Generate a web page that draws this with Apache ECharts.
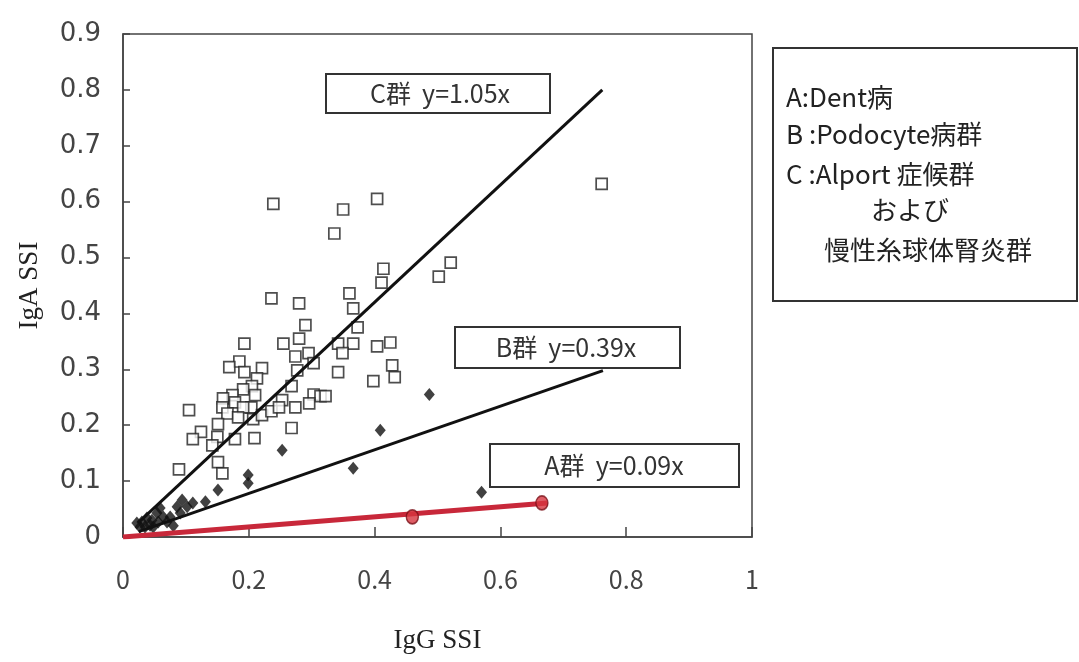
<!DOCTYPE html>
<html lang="ja">
<head>
    <meta charset="UTF-8">
    <script type="text/javascript" src="https://cdn.jsdelivr.net/npm/echarts@6/dist/echarts.min.js"></script>
    <title>IgG SSI / IgA SSI</title>
</head>
<body style="margin:0;background:#fff;">
<div id="ssiChart" style="width: 1079px;height:662px;"></div>
<script type="text/javascript">
    // 軸の目盛
    var xTicks = [0, 0.2, 0.4, 0.6, 0.8, 1];
    var yTicks = [0, 0.1, 0.2, 0.3, 0.4, 0.5, 0.6, 0.7, 0.8, 0.9];

    // C群 (Alport 症候群 / 慢性糸球体腎炎群) : 白抜き四角
    var groupC = [
        [0.239,0.596],[0.350,0.586],[0.404,0.605],[0.336,0.543],[0.414,0.480],[0.411,0.455],
        [0.521,0.491],[0.502,0.466],[0.761,0.632],[0.236,0.427],[0.280,0.418],[0.360,0.436],
        [0.366,0.409],[0.373,0.375],[0.290,0.379],[0.280,0.355],[0.255,0.346],[0.193,0.346],
        [0.342,0.346],[0.366,0.346],[0.349,0.329],[0.404,0.341],[0.425,0.348],[0.274,0.323],
        [0.295,0.329],[0.185,0.314],[0.169,0.304],[0.221,0.302],[0.193,0.295],[0.303,0.311],
        [0.277,0.298],[0.428,0.307],[0.432,0.286],[0.342,0.295],[0.398,0.279],[0.213,0.284],
        [0.205,0.270],[0.191,0.264],[0.174,0.254],[0.210,0.254],[0.268,0.270],[0.303,0.255],
        [0.314,0.252],[0.322,0.252],[0.253,0.245],[0.296,0.239],[0.274,0.232],[0.159,0.248],
        [0.268,0.195],[0.178,0.241],[0.204,0.232],[0.105,0.227],[0.158,0.232],[0.166,0.221],
        [0.191,0.232],[0.183,0.214],[0.207,0.211],[0.221,0.218],[0.236,0.225],[0.248,0.232],
        [0.151,0.202],[0.124,0.188],[0.111,0.175],[0.150,0.179],[0.178,0.175],[0.209,0.177],
        [0.142,0.164],[0.151,0.134],[0.158,0.114],[0.089,0.121]
    ];

    // B群 (Podocyte病群) : 黒ひし形
    var groupB = [
        [0.094,0.066],[0.086,0.054],[0.102,0.054],[0.111,0.061],[0.059,0.052],[0.054,0.043],
        [0.064,0.036],[0.075,0.036],[0.046,0.030],[0.038,0.034],[0.030,0.027],[0.035,0.018],
        [0.027,0.018],[0.048,0.018],[0.070,0.027],[0.080,0.020],[0.043,0.021],[0.056,0.027],
        [0.022,0.025],[0.091,0.043],[0.131,0.063],[0.151,0.084],[0.199,0.111],[0.199,0.096],
        [0.253,0.155],[0.366,0.123],[0.409,0.191],[0.487,0.255],[0.570,0.080]
    ];

    // A群 (Dent病) : 赤丸
    var groupA = [[0.460,0.036],[0.666,0.061]];

    // 回帰直線 y = k x と描画範囲
    var slopeA = 0.09, rangeA = [0, 0.675];
    var slopeB = 0.39, rangeB = [0.025, 0.763];
    var slopeC = 1.05, rangeC = [0.024, 0.762];

    function fitLine(k, r) {
        return [[r[0], k * r[0]], [r[1], k * r[1]]];
    }

    var ssiChart = echarts.init(document.getElementById('ssiChart'));
    var boxText = {fontFamily: 'Noto Sans CJK JP', fontSize: 25, fill: '#333'};
    var noteText = {fontFamily: 'Noto Sans CJK JP', fontSize: 26, fill: '#222'};

    ssiChart.setOption({
        animation: false,
        backgroundColor: '#fff',
        grid: {
            left: 123, top: 34, width: 629, height: 503,
            show: true, borderColor: '#444', borderWidth: 1.5, backgroundColor: 'transparent'
        },
        xAxis: {
            type: 'value', min: 0, max: 1, interval: 0.2,
            name: 'IgG SSI', nameLocation: 'middle', nameGap: 90,
            nameTextStyle: {fontFamily: 'Liberation Serif', fontSize: 27, color: '#222'},
            axisLine: {show: true, lineStyle: {color: '#444', width: 1.5}},
            axisTick: {show: true, inside: true, length: 10, lineStyle: {color: '#444', width: 1.5}},
            axisLabel: {
                margin: 30, fontFamily: 'Noto Sans CJK JP', fontSize: 25, color: '#444',
                formatter: function (v) { return xTicks.indexOf(+v.toFixed(1)) >= 0 ? String(+v.toFixed(1)) : ''; }
            },
            splitLine: {show: false}
        },
        yAxis: {
            type: 'value', min: 0, max: 0.9, interval: 0.1,
            name: 'IgA SSI', nameLocation: 'middle', nameGap: 80, nameRotate: 90,
            nameTextStyle: {fontFamily: 'Liberation Serif', fontSize: 27, color: '#222'},
            axisLine: {show: true, lineStyle: {color: '#444', width: 1.5}},
            axisTick: {show: true, inside: true, length: 7, lineStyle: {color: '#444', width: 1.5}},
            axisLabel: {
                margin: 22, fontFamily: 'DejaVu Sans', fontSize: 26, color: '#444',
                formatter: function (v) { return String(yTicks[Math.round(v * 10)]); }
            },
            splitLine: {show: false}
        },
        series: [
            {
                name: 'C群', type: 'scatter', data: groupC, symbol: 'rect', symbolSize: 11,
                itemStyle: {color: '#fff', borderColor: '#222', borderWidth: 1.7}, z: 2
            },
            {
                name: 'B群', type: 'scatter', data: groupB, symbol: 'diamond', symbolSize: [11, 13],
                itemStyle: {color: '#111'}, z: 3
            },
            {
                name: 'C群 回帰', type: 'line', data: fitLine(slopeC, rangeC), symbol: 'none',
                lineStyle: {color: '#111', width: 3}, z: 4
            },
            {
                name: 'B群 回帰', type: 'line', data: fitLine(slopeB, rangeB), symbol: 'none',
                lineStyle: {color: '#111', width: 3}, z: 4
            },
            {
                name: 'A群 回帰', type: 'line', data: fitLine(slopeA, rangeA), symbol: 'none',
                lineStyle: {color: '#c8283a', width: 5}, z: 5
            },
            {
                name: 'A群', type: 'scatter', data: groupA, symbol: 'circle', symbolSize: [12, 14],
                itemStyle: {color: '#d6343e', borderColor: '#7a1018', borderWidth: 1.5}, z: 6
            }
        ],
        graphic: [
            // 回帰式ラベル
            {type: 'rect', left: 325, top: 73, shape: {width: 224, height: 39},
                style: {fill: '#fff', stroke: '#333', lineWidth: 2}, z: 10},
            {type: 'text', x: 440, y: 93, style: Object.assign({text: 'C群  y=1.05x', align: 'center', verticalAlign: 'middle'}, boxText), z: 11},
            {type: 'rect', left: 454, top: 326, shape: {width: 225, height: 41},
                style: {fill: '#fff', stroke: '#333', lineWidth: 2}, z: 10},
            {type: 'text', x: 566, y: 347, style: Object.assign({text: 'B群  y=0.39x', align: 'center', verticalAlign: 'middle'}, boxText), z: 11},
            {type: 'rect', left: 489, top: 443, shape: {width: 249, height: 43},
                style: {fill: '#fff', stroke: '#333', lineWidth: 2}, z: 10},
            {type: 'text', x: 614, y: 465, style: Object.assign({text: 'A群  y=0.09x', align: 'center', verticalAlign: 'middle'}, boxText), z: 11},
            // 凡例ボックス
            {type: 'rect', left: 772, top: 47, shape: {width: 304, height: 253},
                style: {fill: '#fff', stroke: '#333', lineWidth: 2}, z: 10},
            {type: 'text', x: 786, y: 97, style: Object.assign({text: 'A:Dent病', verticalAlign: 'middle'}, noteText), z: 11},
            {type: 'text', x: 786, y: 134, style: Object.assign({text: 'B :Podocyte病群', verticalAlign: 'middle'}, noteText), z: 11},
            {type: 'text', x: 786, y: 174, style: Object.assign({text: 'C :Alport 症候群', verticalAlign: 'middle'}, noteText), z: 11},
            {type: 'text', x: 910, y: 210, style: Object.assign({text: 'および', align: 'center', verticalAlign: 'middle'}, noteText), z: 11},
            {type: 'text', x: 928, y: 250, style: Object.assign({text: '慢性糸球体腎炎群', align: 'center', verticalAlign: 'middle'}, noteText), z: 11}
        ]
    });
</script>
</body>
</html>
